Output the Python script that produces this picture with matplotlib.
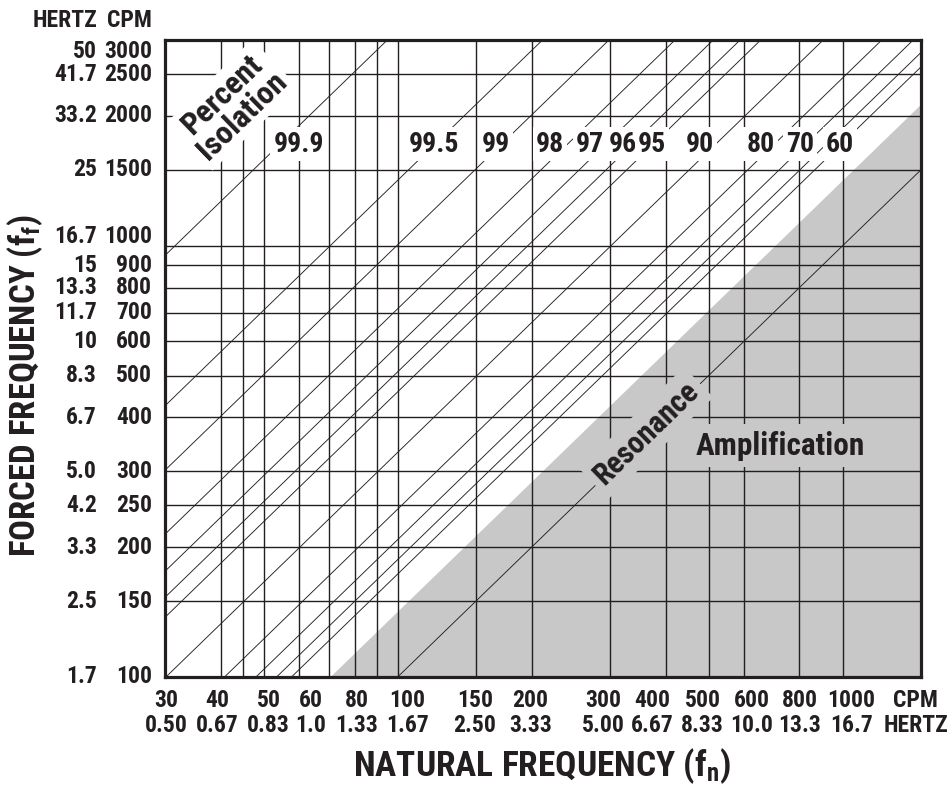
import numpy as np
import matplotlib
matplotlib.use("Agg")
import matplotlib.pyplot as plt
from matplotlib import transforms, font_manager
from matplotlib.ticker import NullFormatter

# pick a condensed bold face that is installed
available = {f.name for f in font_manager.fontManager.ttflist}
face = 'DejaVu Sans'
for cand in ['Roboto Condensed', 'Archivo Narrow', 'PT Sans Narrow', 'IBM Plex Sans Condensed']:
    if cand in available:
        face = cand
        break

plt.rcParams['font.family'] = [face, 'DejaVu Sans']
plt.rcParams['font.weight'] = 'bold'
plt.rcParams['mathtext.fontset'] = 'custom'
plt.rcParams['mathtext.rm'] = face + ':bold'
plt.rcParams['mathtext.it'] = face + ':bold'
plt.rcParams['mathtext.bf'] = face + ':bold'
plt.rcParams['mathtext.default'] = 'rm'

# axis values (CPM) and their Hz equivalents
x_cpm = [30, 40, 50, 60, 80, 100, 150, 200, 300, 400, 500, 600, 800, 1000]
x_hz = ['0.50', '0.67', '0.83', '1.0', '1.33', '1.67', '2.50', '3.33',
        '5.00', '6.67', '8.33', '10.0', '13.3', '16.7']
x_extra_grid = [45, 70, 90]
y_cpm = [100, 150, 200, 250, 300, 400, 500, 600, 700, 800, 900, 1000,
         1500, 2000, 2500, 3000]
y_hz = ['1.7', '2.5', '3.3', '4.2', '5.0', '6.7', '8.3', '10', '11.7',
        '13.3', '15', '16.7', '25', '33.2', '41.7', '50']

# percent isolation lines
isolation = [99.9, 99.5, 99, 98, 97, 96, 95, 90, 80, 70, 60, 50]
labelled = [99.9, 99.5, 99, 98, 97, 96, 95, 90, 80, 70, 60]

# where the labels of the lines sit (natural frequency, CPM) along one row
label_fn = [60, 121, 166, 220, 271, 321, 373, 478, 655, 802, 986]
label_ff = 1720

ink = '#231f20'
shade = '#c8c8c8'


def ratio(iso):
    # ff/fn giving that isolation: T = 1/((ff/fn)^2 - 1)
    t = 1 - iso / 100.0
    return np.sqrt(1.0 / t + 1.0)


fig = plt.figure(figsize=(9.53, 7.87), dpi=100)
ax = fig.add_axes([0.1731, 0.1398, 0.7933, 0.8094])
ax.set_xscale('log')
ax.set_yscale('log')
ax.set_xlim(30, 1500)
ax.set_ylim(100, 3000)

fn = np.array([30.0, 1500.0])

# amplification zone below ff = sqrt(2) fn
ax.fill_between(fn, fn * np.sqrt(2), 1, color=shade, lw=0, zorder=0)

for iso in isolation:
    ax.plot(fn, fn * ratio(iso), color=ink, lw=0.65, zorder=2)
# resonance ff = fn
ax.plot(fn, fn, color=ink, lw=0.65, zorder=2)

# grid
ax.set_xticks(x_cpm)
ax.set_xticks(x_extra_grid, minor=True)
ax.set_yticks(y_cpm)
ax.set_yticks([], minor=True)
for axis in (ax.xaxis, ax.yaxis):
    axis.set_major_formatter(NullFormatter())
    axis.set_minor_formatter(NullFormatter())
ax.tick_params(which='both', length=0)
ax.set_axisbelow(True)
ax.grid(True, which='both', color=ink, lw=1.0)
for s in ax.spines.values():
    s.set_linewidth(2.3)
    s.set_color(ink)
    s.set_zorder(5)


def shift(dx=0, dy=0):
    return transforms.ScaledTranslation(dx / 72, dy / 72, fig.dpi_scale_trans)


# x labels: CPM over Hz, spread a little so they do not touch
bx = transforms.blended_transform_factory(ax.transData, ax.transAxes)
x_nudge = {30: 1, 40: -3, 50: 5, 60: 12, 80: 2, 100: 10, 150: -1, 200: -1,
           300: -7, 400: -13, 500: -6, 600: 8, 800: 0, 1000: 9}
for v, h in zip(x_cpm, x_hz):
    ax.text(v, 0, f'{v}\n{h}', transform=bx + shift(x_nudge.get(v, 0) * 0.72, -8.5),
            ha='center', va='top', fontsize=17, color=ink, linespacing=1.15)
ax.text(0.993, 0, 'CPM\nHERTZ', transform=ax.transAxes + shift(0, -8.5),
        ha='center', va='top', fontsize=17, color=ink, linespacing=1.15)

# y labels in two columns
by = transforms.blended_transform_factory(ax.transAxes, ax.transData)
y_nudge = {1000: 6.5, 3000: -8.5}
for v, h in zip(y_cpm, y_hz):
    tr = by + shift(0, y_nudge.get(v, 0))
    ax.text(-0.09, v, h, transform=tr, ha='right', va='center', fontsize=17, color=ink)
    ax.text(-0.0172, v, str(v), transform=tr, ha='right', va='center', fontsize=17, color=ink)
ax.text(-0.09, 1.031, 'HERTZ', transform=ax.transAxes, ha='right', va='center',
        fontsize=17, color=ink)
ax.text(-0.0172, 1.031, 'CPM', transform=ax.transAxes, ha='right', va='center',
        fontsize=17, color=ink)

# isolation labels
white_box = dict(boxstyle='square,pad=0.12', fc='white', ec='none')
for iso, x in zip(labelled, label_fn):
    ax.text(x, label_ff, f'{iso:g}', ha='center', va='center', fontsize=20,
            color=ink, bbox=white_box, zorder=4)

p1 = ax.transData.transform((100, 100))
p2 = ax.transData.transform((1000, 1000))
ang = np.degrees(np.arctan2(p2[1] - p1[1], p2[0] - p1[0]))

ax.text(42.5, 2120, 'Percent\nIsolation', rotation=ang, ha='center', va='center',
        fontsize=23, color=ink, linespacing=0.95, bbox=white_box, zorder=4,
        rotation_mode='anchor')
grey_box = dict(boxstyle='square,pad=0.2', fc=shade, ec='none')
ax.text(362, 368, 'Resonance', rotation=ang, ha='center', va='center',
        fontsize=22, color=ink, bbox=grey_box, zorder=4, rotation_mode='anchor')
ax.text(725, 344, 'Amplification', ha='center', va='center', fontsize=22.5,
        color=ink, bbox=grey_box, zorder=4)

fig.text(542 / 953, 1 - 766 / 787, 'NATURAL FREQUENCY ($\\mathrm{f_n}$)',
         ha='center', va='center', fontsize=25.5, color=ink)
fig.text(25 / 953, 1 - 385 / 787, 'FORCED FREQUENCY ($\\mathrm{f_f}$)',
         ha='center', va='center', rotation=90, fontsize=25, color=ink)

fig.savefig('out.png', dpi=100, facecolor='white')
